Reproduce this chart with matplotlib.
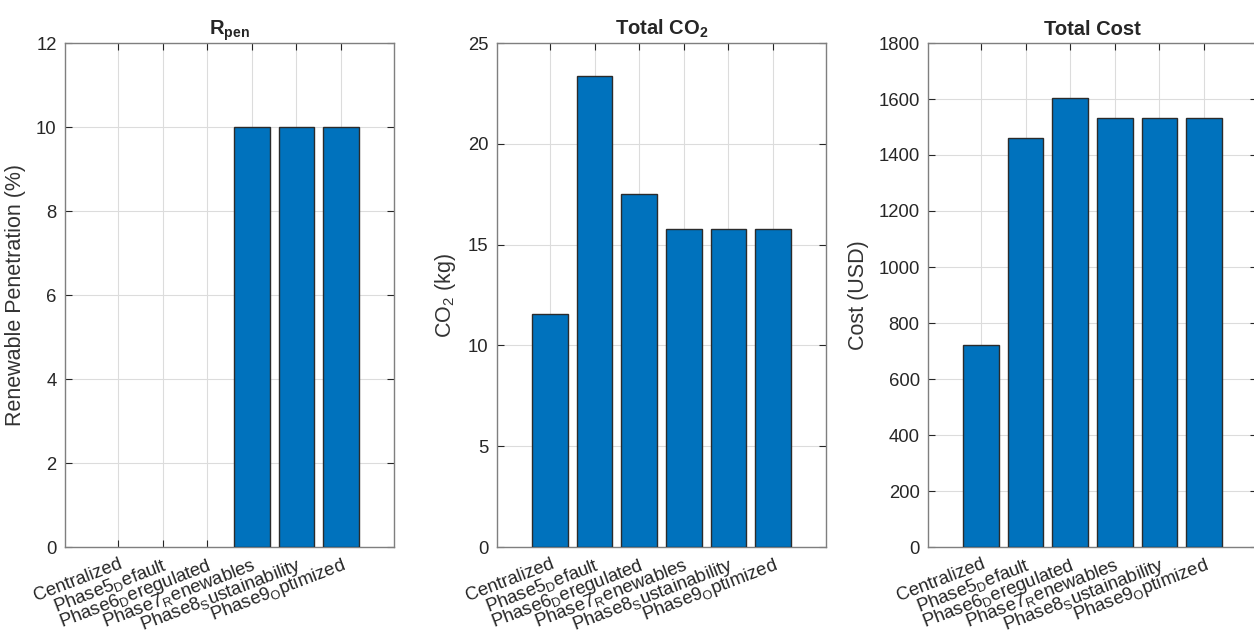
import matplotlib
matplotlib.use("Agg")
import matplotlib.pyplot as plt

plt.rcParams['font.family'] = ['Liberation Sans', 'DejaVu Sans']
plt.rcParams['mathtext.fontset'] = 'custom'
plt.rcParams['mathtext.rm'] = 'Liberation Sans'
plt.rcParams['mathtext.it'] = 'Liberation Sans:italic'
plt.rcParams['mathtext.bf'] = 'Liberation Sans:bold'

categories = [
    "Centralized",
    r"Phase5$_\mathregular{D}$efault",
    r"Phase6$_\mathregular{D}$eregulated",
    r"Phase7$_\mathregular{R}$enewables",
    r"Phase8$_\mathregular{S}$ustainability",
    r"Phase9$_\mathregular{O}$ptimized",
]
renewable_pen = [0, 0, 0, 10, 10, 10]
total_co2 = [11.55, 23.35, 17.5, 15.75, 15.75, 15.75]
total_cost = [722, 1460, 1605, 1532, 1532, 1532]

titles = [r"R$_\mathbf{pen}$", r"Total CO$_\mathbf{2}$", "Total Cost"]
ylabels = ["Renewable Penetration (%)", r"CO$_2$ (kg)", "Cost (USD)"]
yticks = [list(range(0, 13, 2)), list(range(0, 26, 5)), list(range(0, 1801, 200))]
series = [renewable_pen, total_co2, total_cost]

bar_color = '#0072BD'
edge_color = '#2b2b2b'
txt_color = '#262626'
spine_color = '#7f7f7f'

fig = plt.figure(figsize=(12.54, 6.35), dpi=100)
lefts = [65 / 1254, 497 / 1254, 928 / 1254]
W = 329 / 1254
B = (635 - 547) / 635
H = 504 / 635

x = list(range(1, len(categories) + 1))
for i in range(3):
    ax = fig.add_axes([lefts[i], B, W, H])
    vals = series[i]
    ax.bar(x, vals, width=0.8, color=bar_color,
           edgecolor=[edge_color if v > 0 else 'none' for v in vals],
           linewidth=1.0, zorder=3)
    ax.set_xlim(-0.19, 7.19)
    ax.set_ylim(yticks[i][0], yticks[i][-1])
    ax.set_yticks(yticks[i])
    ax.set_xticks(x)
    ax.set_xticklabels(categories, rotation=21, ha='right', va='top',
                       rotation_mode='anchor', fontsize=13.3, color=txt_color)
    ax.tick_params(axis='y', labelsize=13.3, labelcolor=txt_color)
    ax.tick_params(direction='in', length=5, width=0.8, color='#262626',
                   top=True, right=True, pad=6)
    ax.grid(True, color='#dcdcdc', linewidth=0.8, zorder=0)
    ax.set_axisbelow(True)
    for sp in ax.spines.values():
        sp.set_color(spine_color)
        sp.set_linewidth(1.0)
    ax.set_title(titles[i], fontsize=14.5, fontweight='bold', color=txt_color, pad=6)
    ax.set_ylabel(ylabels[i], fontsize=15.5, color='#333333', labelpad=7)

fig.savefig("out.png", dpi=100)
